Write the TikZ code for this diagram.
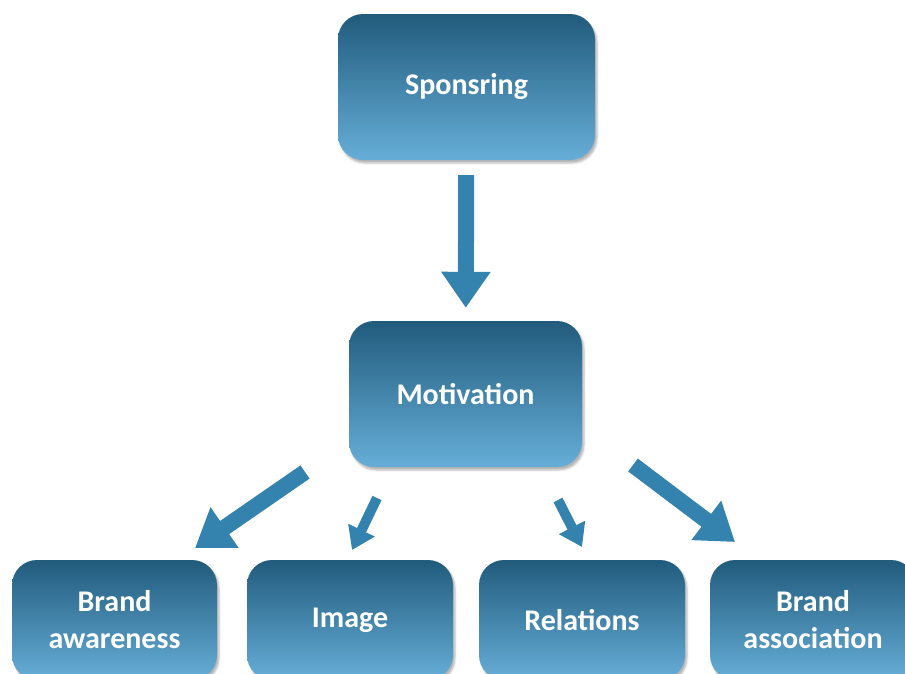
\documentclass[tikz,border=0pt]{standalone}
\usepackage{fontspec}
\setmainfont{Carlito}
\usetikzlibrary{arrows.meta,shadows.blur}
\definecolor{boxtop}{RGB}{33,91,124}
\definecolor{boxbot}{RGB}{102,174,216}
\definecolor{arrowblue}{RGB}{52,130,174}
\tikzset{
  box/.style={rounded corners=25pt, top color=boxtop, bottom color=boxbot, text=white,
    font=\fontsize{30}{37}\selectfont\bfseries, align=center, inner sep=0pt,
    blur shadow={shadow xshift=2pt, shadow yshift=-3pt, shadow opacity=30}},
  bigarrow/.style={draw=arrowblue, line width=16pt, -{Triangle[width=47pt,length=36pt]}},
  smallarrow/.style={draw=arrowblue, line width=10pt, -{Triangle[width=28pt,length=22pt]}}
}
\begin{document}
\begin{tikzpicture}[x=1pt, y=-1pt]
\useasboundingbox (0,0) rectangle (905,673);
\clip (0,0) rectangle (905,673);
% boxes
\node[box, minimum width=257pt, minimum height=146pt] (spons) at (466.5,87) {Sponsring};
\node[box, minimum width=233pt, minimum height=146pt] (motiv) at (465.5,394) {Motivation};
\node[box, minimum width=205pt, minimum height=120pt] (aware) at (114.5,620) {Brand\\awareness};
\node[box, minimum width=206pt, minimum height=120pt] (image) at (350,620) {Image};
\node[box, minimum width=206pt, minimum height=120pt] (relat) at (582,620) {Relations};
\node[box, minimum width=206pt, minimum height=120pt] (assoc) at (813,620) {Brand\\association};
% arrow ends
\coordinate (aw-from) at (305,472); \coordinate (aw-to) at (195,548);
\coordinate (im-from) at (377,498); \coordinate (im-to) at (352,550);
\coordinate (re-from) at (558,500); \coordinate (re-to) at (582,547);
\coordinate (as-from) at (633,465); \coordinate (as-to) at (735,542);
% arrows
\draw[bigarrow, shorten <=15pt, shorten >=13pt] (spons) -- (motiv);
\draw[bigarrow] (aw-from) -- (aw-to);
\draw[smallarrow] (im-from) -- (im-to);
\draw[smallarrow] (re-from) -- (re-to);
\draw[bigarrow] (as-from) -- (as-to);
\end{tikzpicture}
\end{document}
